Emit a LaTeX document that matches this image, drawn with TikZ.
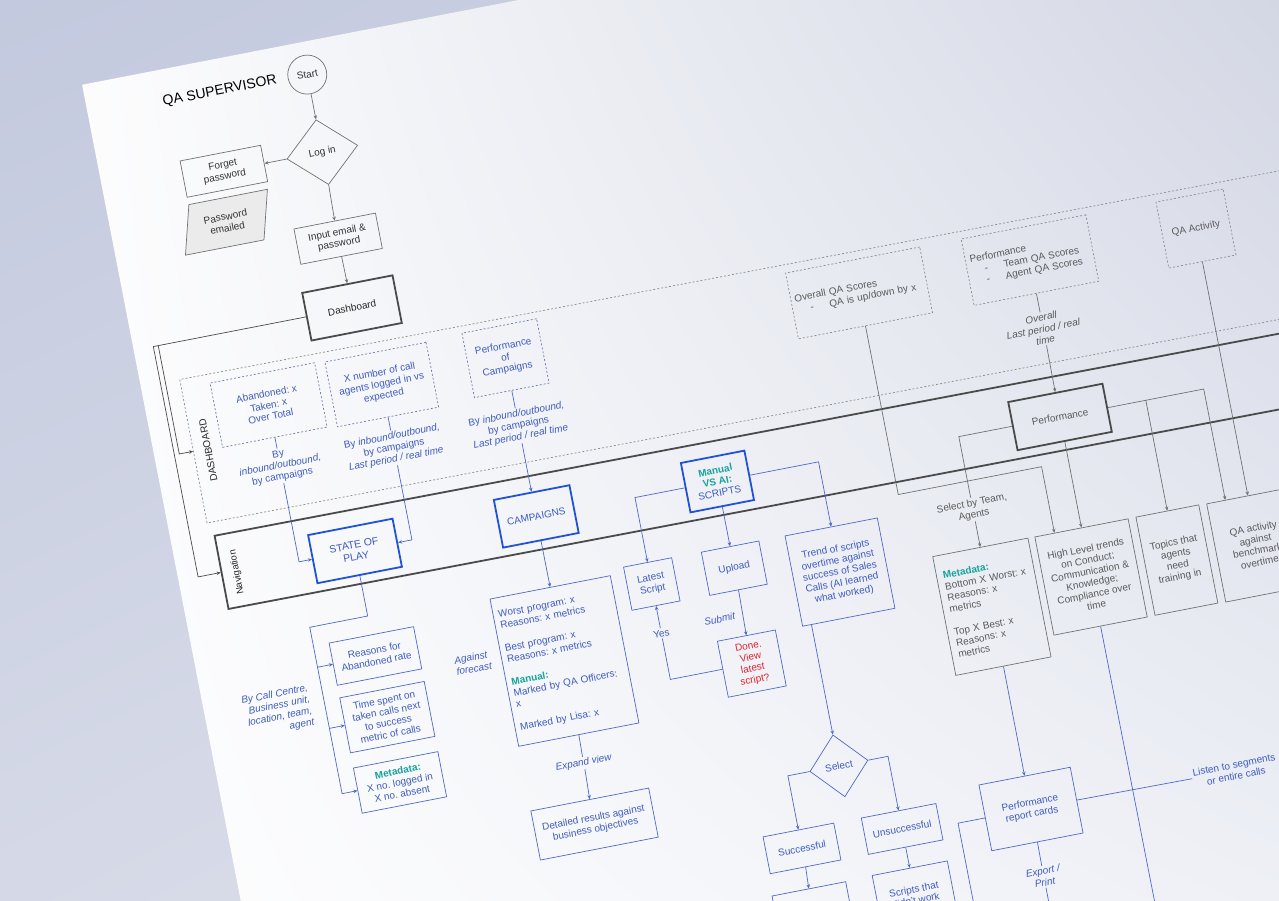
\documentclass[tikz,border=0pt]{standalone}
\usepackage{fontspec}
\setmainfont{Liberation Sans}
\usetikzlibrary{shapes.geometric,arrows.meta,calc,shadings}
\definecolor{bluetxt}{HTML}{3D5BBF}
\definecolor{blueln}{HTML}{5068C8}
\definecolor{navblue}{HTML}{1F52D6}
\definecolor{graytxt}{HTML}{5A5A5A}
\definecolor{grayln}{HTML}{727272}
\definecolor{darkln}{HTML}{4A4A4A}
\definecolor{tealc}{HTML}{17A39B}
\definecolor{redtxt}{HTML}{E3202C}
\definecolor{dashblue}{HTML}{6A7AAE}
\definecolor{dashgray}{HTML}{8C8C8C}
\definecolor{bgUL}{HTML}{C3C9DE}
\definecolor{bgUR}{HTML}{CFD3E3}
\definecolor{bgLL}{HTML}{D5D9E7}
\definecolor{bgLR}{HTML}{E2E5EE}
\definecolor{paperUR}{HTML}{D3D7E4}
\definecolor{paperLR}{HTML}{EEF0F6}
\newcommand\fsz{\fontsize{10}{11.5}\selectfont}
\newcommand\tl[1]{{\color{tealc}\bfseries #1}}
\frenchspacing
\tikzset{
  qbox/.style={draw, rectangle, inner sep=2pt, align=center, font=\fsz, line width=0.7pt},
  sz/.style 2 args={minimum width=#1, minimum height=#2},
  bbox/.style={qbox, draw=blueln, text=bluetxt},
  gbox/.style={qbox, draw=grayln, text=graytxt},
  kbox/.style={qbox, draw=grayln, text=black!80},
  navb/.style={qbox, draw=navblue, line width=1.8pt, text=bluetxt, font=\fontsize{10.5}{12}\selectfont},
  thickg/.style={qbox, draw=darkln, line width=1.8pt},
  dbbox/.style={qbox, draw=dashblue, dash pattern=on 2pt off 2pt, text=bluetxt},
  dgbox/.style={qbox, draw=dashgray, dash pattern=on 2pt off 2pt, text=graytxt},
  lab/.style={font=\fsz, align=center, inner sep=1.5pt},
  ital/.style={font=\fsz\itshape},
  bl/.style={draw=blueln, line width=0.7pt},
  gl/.style={draw=grayln, line width=0.7pt},
  barr/.style={bl, -{Stealth[length=4pt,width=3.5pt]}},
  garr/.style={gl, -{Stealth[length=4pt,width=3.5pt]}},
}
\begin{document}
\begin{tikzpicture}[x=1pt,y=-1pt]
\useasboundingbox (0,0) rectangle (1279,900);
\clip (0,0) rectangle (1279,900);
% background
\shade[upper left=bgUL, upper right=bgUR, lower left=bgLL, lower right=bgLR] (0,0) rectangle (1279,900);
% paper
\begin{scope}
\clip (82.1,84.8) -- (1038,-101) -- (1400,-101) -- (1400,1000) -- (260,1000) -- cycle;
\shade[upper left=white, lower left=white, upper right=paperUR, lower right=paperLR] (0,0) rectangle (1279,900);
\end{scope}

\begin{scope}[rotate around={11:(640,450)}, transform shape]
% big frames
\node[qbox, draw=dashgray, dash pattern=on 2pt off 2pt, sz={1400pt}{146pt}, anchor=west, rotate=-0.25] (dbox) at (201,366) {};
\node[thickg, sz={1400pt}{74.5pt}, anchor=west, rotate=-0.25] (nav) at (205,490.25) {};
\node[rotate=90, font=\fsz, text=black!85] (dblab) at (216,368) {DASHBOARD};
\node[rotate=90, font=\fontsize{9.5}{11}\selectfont, text=black!85] (navlab) at (221,493) {Navigation};

% top flow
\node[font=\fontsize{14}{16}\selectfont, text=black] (title) at (296,17.5) {QA SUPERVISOR};
\node[draw=grayln, line width=0.7pt, circle, minimum size=39pt, inner sep=0pt, font=\fsz, text=black!80] (start) at (385,18) {Start};
\node[draw=grayln, line width=0.7pt, diamond, minimum width=72pt, minimum height=66pt, inner sep=0pt, font=\fsz, text=black!80] (login) at (385,97) {Log in};
\node[kbox, sz={82pt}{37pt}] (forget) at (284.7,97) {Forget\\password};
\draw[draw=grayln, line width=0.7pt, fill=black!8] (244,123) -- (324,123) -- (311,172) -- (231,172) -- cycle;
\node[lab, text=black!80] (pwe) at (277.5,147.5) {Password\\emailed};
\node[kbox, sz={83pt}{36pt}] (input) at (384,185) {Input email \&\\password};
\node[thickg, sz={92pt}{48.5pt}, text=black!85] (dash) at (384.4,255.6) {Dashboard};

\draw[garr] (start.south) -- (login.north);
\draw[garr] (login.west) -- (forget.east);
\draw[garr] (login.south) -- (input.north);
\draw[garr] (input.south) -- (dash.north);
\coordinate (dl1) at (182,255.6);
\coordinate (dl2) at (187,255.6);
\draw[draw=darkln, line width=0.7pt, -{Stealth[length=4pt,width=3.5pt]}] (dash.west) -- (dl1) |- (nav.west);
\draw[draw=darkln, line width=0.7pt, -{Stealth[length=4pt,width=3.5pt]}] (dl2) |- (dbox.west);

% dashboard dashed boxes
\node[dbbox, sz={106.5pt}{65.5pt}] (aband) at (284,335) {Abandoned: x\\Taken: x\\Over Total};
\node[dbbox, sz={103pt}{66pt}] (xnum) at (399,336.5) {X number of call\\agents logged in vs\\expected};
\node[dbbox, sz={76pt}{65.6pt}] (pcamp) at (525.5,334.2) {Performance\\of\\Campaigns};
\node[dgbox, sz={136.6pt}{67pt}, align=left, text width=129pt] (oqa) at (885,337.6) {Overall QA Scores\\\hspace*{14pt}-\hspace{16pt}\mbox{QA is up/down by x}};
\node[dgbox, sz={127pt}{67.6pt}, align=left, text width=118pt] (pdash) at (1059,338) {Performance\\\hspace*{13pt}-\hspace{16pt}\mbox{Team QA Scores}\\\hspace*{13pt}-\hspace{16pt}\mbox{Agent QA Scores}};
\node[dgbox, sz={68.4pt}{67.2pt}] (qadash) at (1228,338.7) {QA Activity};

\node[lab, text=bluetxt] (labA) at (284,397) {By\\\textit{inbound/outbound,}\\by campaigns};
\node[lab, text=bluetxt] (labX) at (399,401) {By \textit{inbound/outbound,}\\by campaigns\\\textit{Last period / real time}};
\node[lab, text=bluetxt] (labC) at (525.5,403) {By \textit{inbound/outbound,}\\by campaigns\\\textit{Last period / real time}};
\node[lab, ital, text=graytxt] (labO) at (1059,408) {Overall\\Last period / real\\time};

% navigation boxes
\node[navb, sz={86pt}{49pt}] (sop) at (341,494.7) {STATE OF\\PLAY};
\node[navb, sz={77pt}{48.6pt}, font=\fsz] (camp) at (525.5,495.4) {CAMPAIGNS};
\node[navb, sz={64.7pt}{50.3pt}, font=\fsz] (manual) at (710,495.7) {\tl{Manual}\\\tl{VS AI:}\\SCRIPTS};
\node[thickg, sz={96pt}{49pt}, text=graytxt] (perf) at (1058.6,497.7) {Performance};

\draw[bl] (aband.south) -- (labA.north);
\draw[barr] (labA.south) |- (sop.west);
\draw[bl] (xnum.south) -- (labX.north);
\draw[barr] (labX.south) |- (sop.east);
\draw[bl] (pcamp.south) -- (labC.north);
\draw[barr] (labC.south) -- (camp.north);
\draw[gl] (pdash.south) -- (labO.north);
\draw[garr] (labO.south) -- (perf.north);

% state of play children
\node[bbox, sz={86pt}{43pt}] (reasons) at (341,601.7) {Reasons for\\Abandoned rate};
\node[bbox, sz={86pt}{56pt}] (time) at (341,664) {Time spent on\\taken calls next\\to success\\metric of calls};
\node[bbox, sz={86pt}{46pt}] (meta1) at (341,730.5) {\tl{Metadata:}\\X no. logged in\\X no. absent};
\node[lab, ital, text=bluetxt, align=right, anchor=east] (labCall) at (270,638) {By Call Centre,\\Business unit,\\location, team,\\agent};
\coordinate (s2) at (282,561);
\draw[barr] (sop.south) |- (s2) -- (s2 |- meta1.west) -- (meta1.west);
\draw[barr] (s2 |- reasons.west) -- (reasons.west);
\draw[barr] (s2 |- time.west) -- (time.west);

% campaigns children
\node[bbox, sz={122.5pt}{150pt}, align=left, text width=112pt] (worst) at (525.6,642.7) {Worst program: x\\Reasons: x metrics\\[11.5pt]Best program: x\\Reasons: x metrics\\[11.5pt]\tl{Manual:}\\Marked by QA Officers:\\x\\[11.5pt]Marked by Lisa: x};
\node[lab, ital, text=bluetxt, align=left] (labFore) at (435.5,627.2) {Against\\forecast};
\node[lab, ital, text=bluetxt] (expLab) at (525,746.5) {Expand view};
\node[bbox, sz={120pt}{50pt}] (det) at (524,808.5) {Detailed results against\\business objectives};
\draw[barr] (camp.south) -- (worst.north);
\draw[bl] (worst.south) -- (expLab.north);
\draw[barr] (expLab.south) -- (det.north);

% scripts children
\node[bbox, sz={49pt}{44pt}] (latest) at (626,583.8) {Latest\\Script};
\node[bbox, sz={58.6pt}{44pt}] (upload) at (710,584) {Upload};
\node[lab, ital, text=bluetxt] (subLab) at (686,631) {Submit};
\node[bbox, sz={59pt}{57pt}, text=redtxt] (done) at (709,681) {Done.\\View\\latest\\script?};
\node[lab, text=bluetxt] (yesLab) at (626,634) {Yes};
\node[bbox, sz={94pt}{92pt}] (trend) at (813,608) {Trend of scripts\\overtime against\\success of Sales\\Calls (AI learned\\what worked)};
\node[draw=blueln, line width=0.7pt, diamond, minimum width=59pt, minimum height=63pt, inner sep=0pt, font=\fsz, text=bluetxt] (select) at (775,798) {Select};
\node[bbox, sz={72pt}{37.5pt}] (succ) at (723,872) {Successful};
\node[bbox, sz={76pt}{37pt}] (unsucc) at (825,872) {Unsuccessful};
\node[bbox, sz={75pt}{50pt}] (succ2) at (722,938) {};
\node[bbox, sz={76.5pt}{54pt}] (scr) at (825,939) {Scripts that\\didn't work};

\draw[barr] (manual.west) -| (latest.north);
\draw[barr] (manual.south) -- (upload.north);
\draw[barr] (manual.east) -| (trend.north);
\draw[barr] (upload.south) -- (done.north);
\draw[bl] (done.west) -| (yesLab.south);
\draw[barr] (yesLab.north) -- (latest.south);
\draw[barr] (trend.south -| select.north) -- (select.north);
\draw[barr] (select.west) -| (succ.north);
\draw[barr] (select.east) -| (unsucc.north);
\draw[barr] (succ.south) -- (succ2.north);
\draw[barr] (unsucc.south) -- (scr.north);

% performance children
\node[gbox, sz={97pt}{121pt}, align=left, text width=84pt] (meta2) at (955.5,671) {\tl{Metadata:}\\Bottom X Worst: x\\Reasons: x\\metrics\\[11.5pt]Top X Best: x\\Reasons: x\\metrics};
\node[lab, text=graytxt] (selLab) at (955.5,572) {Select by Team,\\Agents};
\node[gbox, sz={95pt}{100pt}] (hl) at (1058.5,660.7) {High Level trends\\on Conduct;\\Communication \&\\Knowledge;\\Compliance over\\time};
\node[gbox, sz={64pt}{100pt}] (topics) at (1146,660.5) {Topics that\\agents\\need\\training in};
\node[gbox, sz={82pt}{100pt}] (qab) at (1227,661) {QA activity\\against\\benchmark\\overtime};
\node[bbox, sz={93pt}{67pt}] (prc) at (955.3,877) {Performance\\report cards};
\node[lab, text=bluetxt] (listen) at (1163,878) {Listen to segments\\or entire calls};
\node[lab, ital, text=bluetxt] (export) at (955,946) {Export /\\Print};

\draw[gl] (perf.west) -| (selLab.north);
\draw[garr] (selLab.south) -- (meta2.north);
\draw[garr] (perf.south) -- (hl.north);
\coordinate (t1) at (1205,497.7);
\draw[garr] (perf.east) -- (t1) -- (t1 |- qab.north);
\draw[garr] (perf.east -| topics.north) -- (topics.north);
\draw[garr] (qadash.south) -- (qadash.south |- qab.north);
\coordinate (o2) at (1031,543);
\draw[garr] (oqa.south) -- (oqa.south |- o2) -- (o2) -- (o2 |- hl.north);

\coordinate (hlend) at (1059,1000);
\coordinate (pl2) at (881,1000);
\coordinate (pe) at (955,1000);
\draw[barr] (meta2.south) -- (prc.north);
\draw[bl] (hl.south) -- (hlend);
\draw[bl] (prc.east) -- (listen.west);
\draw[bl] (prc.west) -| (pl2);
\draw[bl] (prc.south) -- (export.north);
\draw[bl] (export.south) -- (pe);
\end{scope}
\end{tikzpicture}
\end{document}
